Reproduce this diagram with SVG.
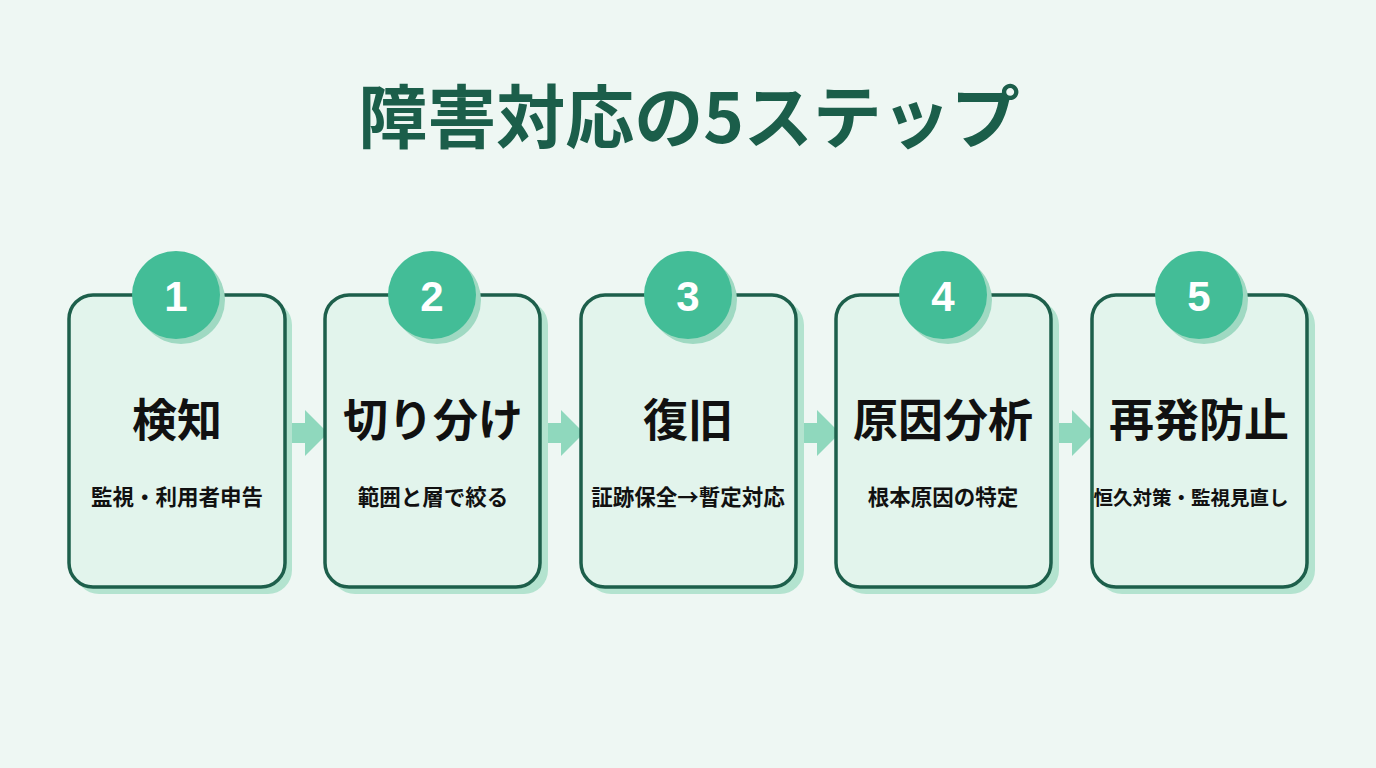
<svg xmlns="http://www.w3.org/2000/svg" width="1376" height="768" viewBox="0 0 1376 768">
<defs>
<style>
.bg{fill:#eef7f3}
.shadow{fill:#b3e3cf}
.box{fill:#e2f4ec;stroke:#1d5f4b;stroke-width:3.5}
.circ{fill:#43bd97}
.cshadow{fill:#9fd9c2}
.num{font-family:"Liberation Sans","Noto Sans",sans-serif;font-weight:bold;font-size:42px;fill:#ffffff;text-anchor:middle}
.title{font-family:"Noto Sans CJK JP",sans-serif;font-weight:bold;font-size:69px;fill:#1b5e4a;text-anchor:middle}
.main{font-family:"Noto Sans CJK JP",sans-serif;font-weight:bold;font-size:45px;fill:#111111;text-anchor:middle}
.sub{font-family:"Noto Sans CJK JP",sans-serif;font-weight:bold;font-size:21.5px;fill:#111111;text-anchor:middle}
.arrow{fill:#8fd8bd}
</style>
</defs>
<rect class="bg" x="0" y="0" width="1376" height="768"/>
<text class="title" x="689" y="143">障害対応の5ステップ</text>
<g id="connectors">
<polygon class="arrow" points="284,423 305,423 305,410 328,433 305,456 305,443 284,443"/>
<polygon class="arrow" points="540,423 561,423 561,410 584,433 561,456 561,443 540,443"/>
<polygon class="arrow" points="796,423 817,423 817,410 840,433 817,456 817,443 796,443"/>
<polygon class="arrow" points="1051,423 1072,423 1072,410 1095,433 1072,456 1072,443 1051,443"/>
</g>
<g id="step1">
<rect class="shadow" x="75" y="301" width="217" height="293" rx="24"/>
<rect class="box" x="69" y="295" width="216" height="292" rx="24"/>
<circle class="cshadow" cx="181" cy="300" r="44"/>
<circle class="circ" cx="176" cy="295" r="44"/>
<text class="num" x="176" y="311">1</text>
<text class="main" x="177" y="437">検知</text>
<text class="sub" x="177" y="505">監視・利用者申告</text>
</g>
<g id="step2">
<rect class="shadow" x="331" y="301" width="217" height="293" rx="24"/>
<rect class="box" x="325" y="295" width="215" height="292" rx="24"/>
<circle class="cshadow" cx="437" cy="300" r="44"/>
<circle class="circ" cx="432" cy="295" r="44"/>
<text class="num" x="432" y="311">2</text>
<text class="main" x="433" y="437">切り分け</text>
<text class="sub" x="433" y="505">範囲と層で絞る</text>
</g>
<g id="step3">
<rect class="shadow" x="587" y="301" width="217" height="293" rx="24"/>
<rect class="box" x="581" y="295" width="215" height="292" rx="24"/>
<circle class="cshadow" cx="693" cy="300" r="44"/>
<circle class="circ" cx="688" cy="295" r="44"/>
<text class="num" x="688" y="311">3</text>
<text class="main" x="688" y="437">復旧</text>
<text class="sub" x="688" y="505">証跡保全→暫定対応</text>
</g>
<g id="step4">
<rect class="shadow" x="842" y="301" width="217" height="293" rx="24"/>
<rect class="box" x="836" y="295" width="215" height="292" rx="24"/>
<circle class="cshadow" cx="948" cy="300" r="44"/>
<circle class="circ" cx="943" cy="295" r="44"/>
<text class="num" x="943" y="311">4</text>
<text class="main" x="943" y="437">原因分析</text>
<text class="sub" x="943" y="505">根本原因の特定</text>
</g>
<g id="step5">
<rect class="shadow" x="1098" y="301" width="217" height="293" rx="24"/>
<rect class="box" x="1092" y="295" width="215" height="292" rx="24"/>
<circle class="cshadow" cx="1204" cy="300" r="44"/>
<circle class="circ" cx="1199" cy="295" r="44"/>
<text class="num" x="1199" y="311">5</text>
<text class="main" x="1199" y="437">再発防止</text>
<text class="sub" x="1191" y="505" style="font-size:19.5px">恒久対策・監視見直し</text>
</g>
</svg>
